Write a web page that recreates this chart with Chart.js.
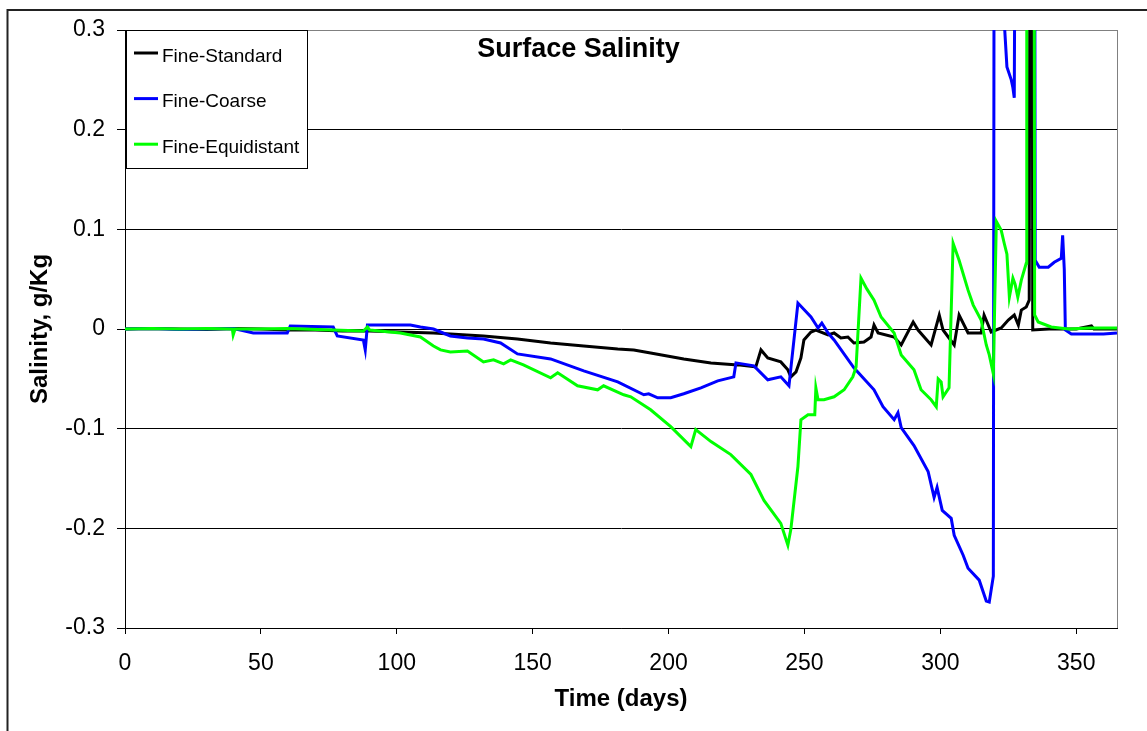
<!DOCTYPE html>
<html>
<head>
<meta charset="utf-8">
<title>Surface Salinity</title>
<script src="https://cdn.jsdelivr.net/npm/chart.js@4"></script>
<style>
  html, body { margin: 0; padding: 0; background: #fff; }
  #wrap { width: 1147px; height: 731px; }
</style>
</head>
<body>
<div id="wrap"><canvas id="chart" width="1147" height="731"></canvas></div>
<script>
/* ===== data (days, g/Kg) ===== */
const seriesNames = ["Fine-Standard", "Fine-Coarse", "Fine-Equidistant"];
const seriesColors = ["#000000", "#0000ff", "#00ff00"];

const stdDays = [0, 10, 20, 30, 40, 50, 60, 70, 80, 90, 101.3, 113.5, 119.7, 131.9, 144.4, 156.6, 168.8, 181.3, 187.2, 193.4,
  205.6, 215.6, 225.5, 232.1, 234.0, 236.5, 241.3, 243.9, 245.0, 246.9, 248.7, 249.8, 252.4, 254.2, 258.7, 260.9, 263.4,
  266.0, 268.2, 271.9, 274.5, 275.6, 277.1, 283.0, 285.6, 290.0, 291.8, 296.6, 299.6, 301.0, 305.1, 306.9, 310.2, 315.0,
  316.1, 318.7, 322.4, 325.0, 327.2, 328.7, 329.8, 331.6, 332.7, 333.1, 333.7, 334.0, 340, 350, 355.6, 356.5, 365];
const stdVals = [0, 0.0005, 0, -0.0005, 0.0005, 0, -0.001, -0.001, -0.002, -0.002, -0.003, -0.004, -0.005, -0.007, -0.010,
  -0.014, -0.017, -0.020, -0.021, -0.024, -0.030, -0.034, -0.036, -0.038, -0.021, -0.029, -0.033, -0.041, -0.048, -0.043,
  -0.029, -0.011, -0.003, -0.001, -0.006, -0.004, -0.009, -0.008, -0.014, -0.013, -0.008, 0.004, -0.004, -0.008, -0.016,
  0.007, -0.001, -0.016, 0.014, -0.001, -0.016, 0.014, -0.004, -0.004, 0.014, -0.003, 0.001, 0.009, 0.014, 0.004, 0.019,
  0.022, 0.029, 0.7, 0.7, -0.001, 0, 0, 0.003, 0, 0];

const coarseDays = [0, 10, 20, 30, 40, 47.2, 59.7, 60.8, 76.6, 78.1, 87.7, 88.4, 89.2, 105.0, 108.7, 113.5, 119.7, 126.0,
  131.9, 138.2, 144.4, 156.6, 168.8, 181.3, 190.9, 192.7, 196.0, 200.8, 205.6, 211.9, 218.1, 224.0, 224.8, 231.4, 236.5,
  241.3, 244.3, 247.6, 252.4, 255.0, 256.4, 258.7, 260.9, 268.2, 275.6, 278.9, 283.0, 284.4, 285.6, 290.3, 295.5, 297.7,
  298.8, 300.7, 304.0, 305.1, 308.4, 310.2, 314.3, 316.9, 318.0, 319.5, 319.9, 322.6, 324.5, 326.1, 326.7, 327.2, 327.9,
  334.6, 334.9, 336.4, 339.7, 341.9, 344.5, 345.0, 345.6, 346.0, 348.2, 360, 365];
const coarseVals = [0, 0.0005, -0.0005, 0, 0.0005, -0.004, -0.004, 0.003, 0.002, -0.007, -0.011, -0.021, 0.004, 0.004, 0.002,
  0, -0.007, -0.009, -0.010, -0.014, -0.025, -0.030, -0.042, -0.053, -0.066, -0.065, -0.069, -0.069, -0.065, -0.059, -0.052,
  -0.048, -0.034, -0.037, -0.051, -0.048, -0.057, 0.026, 0.012, 0.001, 0.006, -0.004, -0.011, -0.039, -0.061, -0.078,
  -0.091, -0.084, -0.099, -0.117, -0.143, -0.169, -0.159, -0.182, -0.190, -0.207, -0.227, -0.240, -0.252, -0.273, -0.274,
  -0.248, 0.7, 0.35, 0.263, 0.250, 0.242, 0.232, 0.7, 0.7, 0.069, 0.062, 0.062, 0.067, 0.071, 0.094, 0.06, -0.001, -0.005,
  -0.005, -0.004];

const equiDays = [0, 10, 20, 30, 39.5, 39.8, 40.5, 47.2, 60, 76.6, 87.7, 89.2, 90, 101.3, 108.7, 113.5, 116.1, 119.7, 126.0,
  131.9, 135.6, 139.3, 141.9, 146.6, 156.6, 159.2, 166.5, 173.9, 176.1, 183.5, 186.1, 193.4, 200.8, 208.2, 210.0, 215.6,
  222.9, 230.3, 235.1, 241.3, 243.9, 245.0, 247.6, 248.7, 251.3, 253.8, 254.2, 255.0, 257.2, 260.9, 264.6, 267.8, 269.0,
  270.8, 273.0, 275.6, 278.2, 283.0, 285.6, 290.3, 292.9, 296.6, 298.5, 299.2, 300.3, 301.0, 303.2, 304.7, 306.9, 310.2,
  312.1, 315.0, 316.9, 318.0, 319.5, 320.6, 322.4, 323.5, 324.5, 325.4, 326.7, 327.5, 328.5, 329.8, 331.6, 331.8, 334.4,
  334.7, 336.0, 340.8, 347.1, 355, 365];
const equiVals = [0, 0.0005, 0, 0.0005, 0, -0.006, 0, 0, 0.0005, -0.001, -0.002, 0.002, -0.001, -0.004, -0.008, -0.017,
  -0.021, -0.023, -0.022, -0.033, -0.031, -0.035, -0.031, -0.036, -0.049, -0.044, -0.057, -0.061, -0.057, -0.066, -0.068,
  -0.081, -0.098, -0.118, -0.101, -0.113, -0.126, -0.146, -0.172, -0.195, -0.217, -0.201, -0.138, -0.091, -0.086, -0.086,
  -0.059, -0.071, -0.071, -0.068, -0.061, -0.048, -0.038, 0.051, 0.040, 0.029, 0.012, -0.004, -0.026, -0.041, -0.061,
  -0.071, -0.078, -0.050, -0.053, -0.068, -0.059, 0.086, 0.069, 0.039, 0.024, 0.009, -0.016, -0.026, -0.045, 0.108, 0.099,
  0.086, 0.075, 0.032, 0.051, 0.045, 0.032, 0.049, 0.066, 0.7, 0.7, 0.014, 0.007, 0.002, 0, 0.001, 0.001];

const xTicks = [0, 50, 100, 150, 200, 250, 300, 350];
const xMin = 0, xMax = 365;
const yMin = -0.3, yMax = 0.3, yStep = 0.1;

const FONT = "'Liberation Sans', Arial, sans-serif";

const toPts = (xs, ys) => xs.map((x, i) => ({ x, y: ys[i] }));
const allDays = [stdDays, coarseDays, equiDays];
const allVals = [stdVals, coarseVals, equiVals];

// frame, chart title, plot border and legend box
const decor = {
  id: "decor",
  beforeDraw(chart) {
    const c = chart.ctx;
    c.save();
    c.strokeStyle = "#222";
    c.lineWidth = 2;
    c.strokeRect(7.5, 10, 1300, 900);
    c.restore();
  },
  afterDraw(chart) {
    const c = chart.ctx, a = chart.chartArea;
    c.save();
    c.strokeStyle = "#808080";
    c.lineWidth = 1;
    c.beginPath();
    c.moveTo(Math.round(a.right) + 0.5, a.top);
    c.lineTo(Math.round(a.right) + 0.5, a.bottom);
    c.stroke();

    c.fillStyle = "#000";
    c.font = "bold 27px " + FONT;
    c.textAlign = "center";
    c.textBaseline = "alphabetic";
    c.fillText("Surface Salinity", 578.5, 57);

    // legend
    c.fillStyle = "#fff";
    c.fillRect(126, 30, 181, 138);
    c.strokeStyle = "#000";
    c.strokeRect(126.5, 30.5, 181, 138);
    c.font = "19px " + FONT;
    c.textAlign = "left";
    chart.data.datasets.forEach((ds, i) => {
      const y = 53 + i * 45.6;
      c.strokeStyle = ds.borderColor;
      c.lineWidth = 3;
      c.beginPath();
      c.moveTo(134, y);
      c.lineTo(158, y);
      c.stroke();
      c.fillStyle = "#000";
      c.fillText(ds.label, 162, y + 8.8);
    });
    c.restore();
  }
};

new Chart(document.getElementById("chart"), {
  type: "line",
  data: {
    datasets: seriesNames.map((name, i) => ({
      label: name,
      data: toPts(allDays[i], allVals[i]),
      borderColor: seriesColors[i],
      borderWidth: 3,
      pointRadius: 0,
      tension: 0,
      fill: false,
      order: 3 - i
    }))
  },
  options: {
    responsive: false,
    animation: false,
    layout: { padding: { left: 0, top: 30, right: 30, bottom: 0 } },
    plugins: { legend: { display: false }, tooltip: { enabled: false }, title: { display: false } },
    scales: {
      x: {
        type: "linear",
        min: xMin, max: xMax,
        afterBuildTicks: s => { s.ticks = xTicks.map(v => ({ value: v })); },
        afterFit: s => { s.height = 103; },
        ticks: { color: "#000", font: { family: FONT, size: 23 }, padding: 16, maxRotation: 0, autoSkip: false },
        grid: { drawOnChartArea: false, drawTicks: true, tickLength: 6, color: "#000", tickColor: "#000" },
        border: { color: "#000", width: 1 },
        title: { display: true, text: "Time (days)", color: "#000",
                 font: { family: FONT, size: 24, weight: "bold" }, padding: { top: 0, bottom: 17.6 } }
      },
      y: {
        min: yMin, max: yMax,
        afterFit: s => { s.width = 125; },
        ticks: { stepSize: yStep, color: "#000", font: { family: FONT, size: 23 }, padding: 12,
                 callback: v => String(Math.round(v * 10) / 10) },
        grid: {
          tickLength: 8,
          tickColor: "#000",
          lineWidth: 1,
          color: ctx => (ctx.tick && Math.abs(ctx.tick.value - yMax) < 1e-6) ? "#808080" : "#000"
        },
        border: { color: "#000", width: 1 },
        title: { display: true, text: "Salinity, g/Kg", color: "#000",
                 font: { family: FONT, size: 24, weight: "bold" }, padding: { top: 26, bottom: 0 } }
      }
    }
  },
  plugins: [decor]
});
</script>
</body>
</html>
